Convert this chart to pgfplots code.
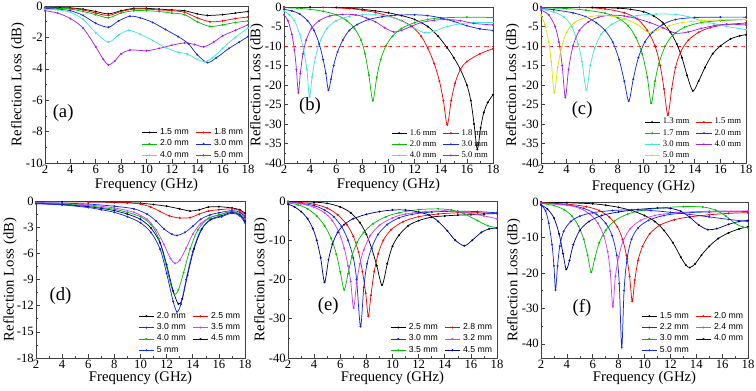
\documentclass[border=0pt]{standalone}
\usepackage{fontspec}
\setmainfont{Liberation Serif}
\setsansfont{Liberation Sans}
\usepackage{pgfplots}
\pgfplotsset{compat=1.18}
\definecolor{cBlack}{RGB}{0,0,0}
\definecolor{cRed}{RGB}{255,0,0}
\definecolor{cGreen}{RGB}{0,190,0}
\definecolor{cBlue}{RGB}{20,40,240}
\definecolor{cCyan}{RGB}{64,230,210}
\definecolor{cPurple}{RGB}{160,32,240}
\definecolor{cMag}{RGB}{210,60,255}
\definecolor{cNavy}{RGB}{0,0,150}
\definecolor{cYellow}{RGB}{225,225,0}

\tikzset{lab/.style={anchor=west, font=\fontsize{14}{16}\selectfont}}
\pgfplotsset{
  rl/.style={
    scale only axis, xmin=2, xmax=18, xtick={2,4,...,18},
    minor x tick num=1, minor y tick num=1,
    tick align=inside, xtick pos=left, ytick pos=left,
    major tick length=3pt, minor tick length=1.6pt,
    axis line style={black!75}, every tick/.style={black!75},
    tick label style={font=\fontsize{9.5}{11}\selectfont},
    yticklabel style={inner sep=1.5pt},
    xticklabel style={inner sep=1.5pt},
    /pgf/number format/assume math mode=true,
    label style={font=\fontsize{11}{13}\selectfont},
    xlabel={Frequency (GHz)}, ylabel={Reflection Loss (dB)},
    ylabel shift=-4pt, xlabel shift=-2pt,
    legend columns=2,
    legend style={at={(0.99,0.005)}, anchor=south east, draw=none, fill=none,
      font=\fontsize{6.5}{7}\sffamily, inner sep=0pt, row sep=-1.5pt,
      /tikz/every even column/.append style={column sep=3pt}},
    legend cell align=left,
    legend image code/.code={\draw[mark repeat=2, mark phase=2] plot coordinates {(0cm,0cm) (0.2cm,0cm) (0.4cm,0cm)};},
    every axis plot/.append style={line width=0.55pt, mark=*, mark size=0.45pt, smooth, tension=0.5},
  },
  bot/.style={xlabel shift=-3pt},
}

\begin{document}
\begin{tikzpicture}
\useasboundingbox (0,0) rectangle (567pt,292.5pt);

%% (a)
\begin{axis}[rl, at={(33.75pt,170.25pt)}, anchor=south west, width=152.25pt, height=117.75pt,
  ymin=-10, ymax=0, ytick={0,-2,...,-10}]
\addplot[cBlack] coordinates {(2,-0.1)(3,-0.1)(4,-0.12)(5,-0.2)(6,-0.35)(7,-0.5)(8,-0.3)(9,-0.15)(10,-0.15)(11,-0.2)(12,-0.25)(13,-0.3)(14,-0.5)(14.8,-0.6)(16,-0.55)(17,-0.45)(18,-0.35)};
\addlegendentry{1.5 mm}
\addplot[cRed] coordinates {(2,-0.1)(3,-0.12)(4,-0.15)(5,-0.25)(6,-0.45)(7,-0.6)(8,-0.35)(9,-0.2)(10,-0.2)(11,-0.25)(12,-0.3)(13,-0.4)(14,-0.75)(15,-1.0)(16,-0.95)(17,-0.8)(18,-0.7)};
\addlegendentry{1.8 mm}
\addplot[cGreen] coordinates {(2,-0.1)(3,-0.15)(4,-0.2)(5,-0.35)(6,-0.55)(7,-0.75)(8,-0.45)(9,-0.3)(10,-0.3)(11,-0.35)(12,-0.45)(13,-0.55)(14,-1.0)(15,-1.3)(16,-1.2)(17,-1.05)(18,-0.95)};
\addlegendentry{2.0 mm}
\addplot[cBlue] coordinates {(2,-0.15)(3,-0.2)(4,-0.3)(5,-0.6)(6,-1.1)(7,-1.35)(7.8,-0.95)(8.7,-0.65)(9.5,-0.75)(10.5,-1.05)(11.5,-1.5)(12.5,-1.95)(13.3,-2.4)(14,-3.1)(14.8,-3.6)(15.5,-3.3)(16.5,-2.7)(17.3,-2.3)(18,-1.95)};
\addlegendentry{3.0 mm}
\addplot[cCyan] coordinates {(2,-0.2)(3,-0.25)(4,-0.4)(5,-0.85)(6,-1.7)(7,-2.3)(7.8,-1.85)(8.6,-1.55)(9.5,-1.8)(10.5,-2.2)(11.5,-2.65)(12.5,-2.95)(13.2,-3.05)(14,-3.4)(14.6,-3.55)(15.2,-3.3)(16,-2.7)(17,-2.0)(18,-1.4)};
\addlegendentry{4.0 mm}
\addplot[cPurple] coordinates {(2,-0.3)(3,-0.45)(4,-0.8)(5,-1.4)(6,-2.6)(6.6,-3.4)(7,-3.75)(7.5,-3.5)(8,-3.05)(8.7,-2.8)(10,-2.85)(11,-2.7)(12,-2.5)(13,-2.35)(13.8,-2.45)(14.5,-2.6)(15.3,-2.3)(16,-1.9)(17,-1.55)(18,-1.2)};
\addlegendentry{5.0 mm}
\node[lab] at (rel axis cs:0.015,0.32) {(a)};
\end{axis}

%% (b)
\begin{axis}[rl, at={(213pt,170.25pt)}, anchor=south west, width=156.75pt, height=117pt,
  ymin=-40, ymax=0, ytick={0,-5,...,-40}, xlabel shift=-2pt,
  legend style={font=\fontsize{6.5}{7}\rmfamily}]
\addplot[red, dashed, mark=none, line width=0.5pt, forget plot] coordinates {(2,-10)(18,-10)};
\addplot[cBlack] coordinates {(2,0)(4,-0.05)(6,-0.15)(7,-0.3)(8,-0.6)(9,-1.0)(10,-1.5)(11,-2.2)(12,-3.2)(13,-5.0)(13.8,-7.5)(14.5,-10.5)(15,-13)(15.5,-16)(16,-20)(16.3,-24)(16.55,-30)(16.8,-36.5)(17.05,-31)(17.3,-27)(17.6,-24.5)(18,-22.5)};
\addlegendentry{1.6 mm}
\addplot[cRed] coordinates {(2,0)(5,-0.1)(7,-0.4)(8,-0.8)(9,-1.4)(10,-2.3)(11,-3.5)(11.8,-5)(12.5,-7.5)(13,-10.5)(13.5,-14.5)(13.9,-19)(14.2,-24)(14.5,-30.2)(14.8,-24)(15.1,-19.5)(15.5,-16)(16,-14)(17,-12)(18,-10.7)};
\addlegendentry{1.8 mm}
\addplot[cGreen] coordinates {(2,-0.2)(3,-0.3)(4,-0.6)(5,-1.1)(6,-2.0)(6.8,-3.5)(7.4,-5.5)(7.9,-8.5)(8.2,-12)(8.5,-17.5)(8.8,-24)(9.1,-18)(9.4,-13.5)(9.8,-10)(10.3,-7.5)(11,-5.5)(12,-4)(13,-3.2)(14,-2.8)(16,-2.6)(18,-2.7)};
\addlegendentry{2.0 mm}
\addplot[cBlue] coordinates {(2,-0.6)(2.6,-1)(3.2,-1.8)(3.8,-3.5)(4.3,-6)(4.7,-9.5)(5,-13.5)(5.2,-17)(5.4,-21.3)(5.6,-18.5)(5.8,-15)(6.1,-11.5)(6.5,-8.5)(7,-6)(7.6,-4.5)(8.5,-3.2)(9.5,-2.5)(10.5,-2.1)(12,-2)(13,-2.2)(14,-2.8)(15,-3.7)(16,-4.8)(17,-5.6)(18,-6)};
\addlegendentry{3.0 mm}
\addplot[cCyan] coordinates {(2,-1)(2.4,-2)(2.8,-3.5)(3.2,-7)(3.5,-11)(3.75,-16)(3.95,-23)(4.15,-18)(4.4,-13)(4.8,-8.5)(5.3,-5.5)(6,-3.5)(7,-2.4)(8,-2)(9,-2)(10,-2.4)(11,-3.6)(12,-5.5)(12.8,-6.6)(13.5,-6.2)(14.5,-5)(15.5,-4.3)(16.5,-4)(18,-4)};
\addlegendentry{4.0 mm}
\addplot[cPurple] coordinates {(2,-2)(2.3,-3.5)(2.6,-7)(2.8,-11)(2.95,-16)(3.1,-22)(3.25,-17)(3.45,-12)(3.7,-8.5)(4.1,-5.5)(4.7,-3.5)(5.5,-2.3)(6.5,-1.9)(7.5,-2)(8.3,-2.8)(9,-3.8)(9.7,-5.3)(10.4,-6.4)(11,-6)(11.7,-5)(12.5,-4)(13.5,-3.4)(14.5,-3.2)(15.5,-3.5)(16.5,-4.2)(18,-4.6)};
\addlegendentry{5.0 mm}
\node[lab] at (rel axis cs:0.05,0.365) {(b)};
\end{axis}

%% (c)
\begin{axis}[rl, at={(405.75pt,170.25pt)}, anchor=south west, width=153.75pt, height=117pt,
  ymin=-40, ymax=0, ytick={0,-5,...,-40}, xlabel shift=0pt, ylabel shift=-3pt,
  legend style={font=\fontsize{6.5}{7}\rmfamily}]
\addplot[red, dashed, mark=none, line width=0.5pt, forget plot] coordinates {(2,-10)(18,-10)};
\addplot[cBlack] coordinates {(2,0)(6,-0.1)(8,-0.3)(9,-0.6)(10,-1.2)(10.8,-2.3)(11.5,-4)(12.1,-6.5)(12.6,-9.5)(13,-13)(13.4,-17.5)(13.85,-21.5)(14.3,-19)(14.8,-15.5)(15.4,-12)(16,-10)(16.8,-8.2)(17.5,-7.4)(18,-7.1)};
\addlegendentry{1.3 mm}
\addplot[cRed] coordinates {(2,0)(5,-0.1)(7,-0.5)(8.5,-1.5)(9.5,-3)(10.3,-6)(10.9,-10)(11.3,-15)(11.6,-21)(11.9,-27.7)(12.2,-21)(12.5,-15.5)(12.9,-11.5)(13.5,-8.5)(14.3,-6.5)(15.2,-5.3)(16.5,-4.5)(18,-4.1)};
\addlegendentry{1.5 mm}
\addplot[cGreen] coordinates {(2,-0.2)(4,-0.4)(5.5,-0.8)(7,-1.6)(8,-2.8)(8.8,-4.8)(9.4,-7.8)(9.9,-12)(10.3,-18)(10.6,-24.7)(10.9,-19)(11.2,-14.5)(11.7,-10)(12.3,-7.2)(13.2,-5.2)(14.5,-4)(16,-3.5)(18,-3.2)};
\addlegendentry{1.7 mm}
\addplot[cBlue] coordinates {(2,-0.4)(3,-0.7)(4.5,-1.5)(5.5,-2.5)(6.3,-4)(7,-6)(7.6,-9)(8.1,-13.5)(8.5,-19)(8.85,-24.1)(9.2,-18.5)(9.6,-13)(10.1,-9)(10.7,-6.5)(11.5,-4.5)(12.5,-3.2)(14,-2.7)(16,-2.6)(18,-2.6)};
\addlegendentry{2.0 mm}
\addplot[cCyan] coordinates {(2,-0.6)(3,-1.3)(3.8,-2.6)(4.4,-5)(4.9,-9.5)(5.2,-14)(5.54,-21.3)(5.85,-15)(6.2,-10.5)(6.7,-7)(7.5,-4.5)(8.5,-3)(9.5,-2.2)(11,-1.8)(12.5,-1.9)(13.5,-2.5)(14.5,-3.5)(15.5,-4.3)(16.5,-5)(18,-5.8)};
\addlegendentry{3.0 mm}
\addplot[cPurple] coordinates {(2,-0.8)(2.6,-2)(3.1,-5)(3.4,-9)(3.65,-15)(3.9,-23.2)(4.15,-16)(4.5,-10)(5,-6)(5.7,-3.8)(6.5,-2.6)(7.5,-2.1)(8.5,-2.3)(9.5,-3)(10.5,-4)(11.5,-5.3)(12.5,-6.7)(13.5,-6.4)(14.5,-5.5)(15.5,-4.8)(16.5,-4.4)(18,-4.6)};
\addlegendentry{4.0 mm}
\addplot[cYellow] coordinates {(2,-2)(2.3,-4.5)(2.6,-9)(2.8,-14)(3.04,-22)(3.3,-15.5)(3.6,-10.5)(4,-6.5)(4.6,-4)(5.5,-2.7)(6.5,-2.2)(7.5,-2.3)(8.5,-3)(9.5,-4.5)(10.4,-6.5)(11.2,-5.8)(12,-4.8)(13,-4)(14.5,-3.5)(16,-3.3)(18,-3.2)};
\addlegendentry{5.0 mm}
\node[lab] at (rel axis cs:0.127,0.34) {(c)};
\end{axis}

%% (d)
\begin{axis}[rl, bot, at={(27pt,24pt)}, anchor=south west, width=156.75pt, height=117.75pt,
  ymin=-18, ymax=0, ytick={0,-3,...,-18}, ylabel shift=-5pt]
\addplot[cBlack] coordinates {(2,-0.1)(4,-0.1)(6,-0.1)(8,-0.15)(9,-0.2)(10,-0.25)(11,-0.4)(12,-0.6)(13,-0.9)(13.8,-1.15)(14.5,-1.0)(15.2,-0.7)(16,-0.65)(17,-0.8)(17.6,-1.0)(18,-1.4)};
\addlegendentry{2.0 mm}
\addplot[cRed] coordinates {(2,-0.1)(6,-0.1)(8,-0.15)(9,-0.2)(10,-0.35)(10.8,-0.7)(11.5,-1.2)(12.2,-1.7)(13,-1.95)(13.8,-1.9)(14.5,-1.5)(15.2,-1.15)(16,-1.0)(17,-0.9)(17.6,-1.1)(18,-1.7)};
\addlegendentry{2.5 mm}
\addplot[cBlue] coordinates {(2,-0.2)(4,-0.25)(6,-0.35)(8,-0.6)(9.5,-0.9)(10.5,-1.5)(11.2,-2.3)(11.8,-3.2)(12.4,-3.8)(12.8,-3.95)(13.4,-3.6)(14,-2.9)(14.6,-2.1)(15.3,-1.6)(16,-1.35)(17,-1.1)(17.6,-1.3)(18,-1.9)};
\addlegendentry{3.0 mm}
\addplot[cMag] coordinates {(2,-0.2)(4,-0.3)(6,-0.45)(8,-0.8)(9.5,-1.3)(10.5,-2.1)(11.2,-3.3)(11.8,-5)(12.3,-6.6)(12.65,-7.15)(13,-6.8)(13.5,-5.4)(14,-3.8)(14.6,-2.6)(15.3,-1.9)(16,-1.6)(17,-1.2)(17.6,-1.5)(18,-2.1)};
\addlegendentry{3.5 mm}
\addplot[cGreen] coordinates {(2,-0.25)(4,-0.35)(6,-0.55)(7,-0.75)(8,-0.95)(9,-1.3)(10,-1.8)(10.8,-2.7)(11.4,-4.3)(11.9,-7)(12.3,-9.5)(12.6,-10.7)(12.9,-10.2)(13.3,-8.2)(13.8,-5.5)(14.4,-3.3)(15.2,-2)(16,-1.6)(17,-1.2)(17.6,-1.5)(18,-2.2)};
\addlegendentry{4.0 mm}
\addplot[cNavy] coordinates {(2,-0.3)(4,-0.4)(6,-0.65)(7,-0.85)(8,-1.1)(9,-1.5)(10,-2.1)(10.8,-3.1)(11.5,-4.8)(12,-7.3)(12.5,-10.3)(12.9,-11.8)(13.2,-11.2)(13.6,-8.5)(14.1,-5.5)(14.7,-3.2)(15.4,-2.1)(16.2,-1.7)(17,-1.3)(17.6,-1.6)(18,-2.3)};
\addlegendentry{4.5 mm}
\addplot[cBlue] coordinates {(2,-0.3)(4,-0.45)(6,-0.75)(7,-1.0)(8,-1.3)(9,-1.8)(10,-2.5)(10.8,-3.6)(11.5,-5.5)(12,-8.3)(12.5,-11.5)(12.8,-12.7)(13.1,-11.8)(13.5,-9)(14,-5.8)(14.6,-3.4)(15.3,-2.2)(16.2,-1.8)(17,-1.4)(17.6,-1.7)(18,-2.5)};
\addlegendentry{5 mm}
\node[lab] at (rel axis cs:0.043,0.395) {(d)};
\end{axis}

%% (e)
\begin{axis}[rl, bot, at={(216pt,24pt)}, anchor=south west, width=156.75pt, height=117.75pt,
  ymin=-40, ymax=0, ytick={0,-10,...,-40}]
\addplot[cBlack] coordinates {(2,-0.1)(4,-0.3)(5,-0.6)(6,-1.5)(6.8,-3)(7.5,-5.5)(8,-8.5)(8.4,-12)(8.8,-16.5)(9.2,-21.4)(9.6,-16)(10,-11.5)(10.5,-8.7)(11.2,-6.3)(12,-5)(13,-4.1)(14,-3.8)(15,-3.6)(16,-3.5)(17,-3.3)(18,-3.2)};
\addlegendentry{2.5 mm}
\addplot[cRed] coordinates {(2,-0.2)(3,-0.4)(4,-0.8)(5,-1.8)(5.8,-3.5)(6.5,-6)(7,-9)(7.4,-13)(7.7,-18)(7.95,-23.5)(8.15,-29.4)(8.35,-24)(8.6,-18)(8.9,-13.5)(9.3,-10)(9.9,-7.3)(10.8,-5.3)(12,-4)(13.5,-3.3)(15,-3)(16.5,-3)(18,-3.2)};
\addlegendentry{2.8 mm}
\addplot[cBlue] coordinates {(2,-0.3)(3,-0.6)(4,-1.2)(4.8,-2.3)(5.5,-4)(6.1,-6.5)(6.6,-10)(7,-14.5)(7.25,-20)(7.55,-32)(7.8,-22)(8.05,-16)(8.4,-12)(8.9,-8.5)(9.6,-6)(10.5,-4.3)(11.5,-3.4)(13,-2.8)(15,-2.6)(16.5,-2.7)(18,-3)};
\addlegendentry{3.0 mm}
\addplot[cMag] coordinates {(2,-0.3)(3,-0.7)(4,-1.6)(4.8,-3)(5.4,-5)(5.9,-8)(6.3,-12)(6.6,-16.5)(6.8,-20.5)(7.02,-27.3)(7.25,-21)(7.5,-16)(7.8,-12.5)(8.3,-8.8)(9,-6.2)(10,-4.3)(11,-3.3)(12.5,-2.7)(14,-2.5)(15,-2.7)(16,-3.2)(17,-3.8)(18,-4.5)};
\addlegendentry{3.2 mm}
\addplot[cGreen] coordinates {(2,-0.5)(2.8,-1)(3.5,-2)(4.2,-3.8)(4.8,-6.3)(5.3,-9.5)(5.7,-13.5)(6,-18)(6.3,-22.6)(6.6,-18.5)(6.9,-14)(7.3,-10.5)(7.8,-8)(8.5,-5.8)(9.5,-4)(10.5,-3)(12,-2.2)(13.5,-2.0)(14.5,-2.3)(15.5,-3.3)(16.5,-5)(17.3,-6.3)(18,-6.8)};
\addlegendentry{3.5 mm}
\addplot[cNavy] coordinates {(2,-0.8)(2.5,-1.5)(3,-2.7)(3.5,-4.5)(3.9,-7)(4.2,-10)(4.5,-14.5)(4.8,-20.7)(5.1,-15)(5.4,-11)(5.8,-8)(6.3,-6)(7,-4.5)(8,-3.4)(9,-2.7)(10,-2.3)(11,-2.3)(12,-2.8)(12.8,-3.6)(13.5,-5.2)(14.2,-7.6)(14.8,-10)(15.5,-11.4)(16.1,-10)(16.8,-8)(17.4,-7.1)(18,-6.9)};
\addlegendentry{4.5 mm}
\node[lab] at (rel axis cs:0.12,0.33) {(e)};
\end{axis}

%% (f)
\begin{axis}[rl, bot, at={(405.75pt,24pt)}, anchor=south west, width=155.25pt, height=117pt,
  ymin=-44, ymax=0, ytick={0,-10,...,-40}]
\addplot[cBlack] coordinates {(2,0)(4,-0.2)(6,-0.5)(7,-0.9)(8,-1.5)(9,-2.4)(10,-3.8)(10.8,-5.5)(11.5,-8)(12.2,-11.5)(12.8,-15.5)(13.2,-17.8)(13.5,-18.5)(13.9,-17.5)(14.4,-15)(15,-12.5)(15.7,-10.3)(16.5,-8.7)(17.3,-7.6)(18,-7)};
\addlegendentry{1.5 mm}
\addplot[cRed] coordinates {(2,-0.2)(4,-0.6)(5.5,-1.3)(6.5,-2.4)(7.3,-4.3)(7.9,-7)(8.3,-10.5)(8.6,-15)(8.85,-21)(9.05,-28)(9.25,-22)(9.5,-16.5)(9.85,-12.5)(10.4,-9)(11.2,-6.5)(12.3,-5)(13.5,-4.2)(15,-3.6)(16.5,-3.2)(18,-3)};
\addlegendentry{2.0 mm}
\addplot[cBlue] coordinates {(2,-0.3)(4,-0.8)(5.3,-1.8)(6.3,-3.5)(7,-6)(7.5,-9.5)(7.85,-15)(8.05,-23)(8.24,-41)(8.42,-25)(8.65,-16)(9,-10.5)(9.5,-7.3)(10.3,-5.2)(11.5,-3.8)(13,-3.1)(15,-2.8)(18,-2.7)};
\addlegendentry{2.2 mm}
\addplot[cMag] coordinates {(2,-0.3)(4,-0.9)(5,-1.8)(5.8,-3.5)(6.4,-6)(6.85,-9.5)(7.15,-14)(7.35,-19.5)(7.55,-29.5)(7.75,-21)(8,-15.5)(8.35,-11)(8.9,-7.5)(9.7,-5.2)(10.8,-3.8)(12.5,-3)(15,-2.6)(18,-2.5)};
\addlegendentry{2.4 mm}
\addplot[cGreen] coordinates {(2,-0.4)(3,-1)(3.8,-2.2)(4.4,-4)(4.9,-6.8)(5.3,-10.5)(5.6,-15)(5.88,-19.8)(6.15,-16)(6.5,-11.5)(7,-8)(7.7,-5.3)(8.7,-3.4)(10,-2.2)(11.5,-1.6)(13,-1.3)(14.5,-1.4)(15.5,-2.3)(16.3,-4)(17,-6)(17.6,-7.1)(18,-7.3)};
\addlegendentry{3.0 mm}
\addplot[cNavy] coordinates {(2,-0.8)(2.5,-2)(3,-4.5)(3.4,-9)(3.7,-14.5)(3.95,-19)(4.2,-16.5)(4.5,-12)(5,-8)(5.7,-5.5)(6.7,-3.8)(8,-2.8)(9.5,-2.1)(11,-1.7)(12,-1.8)(12.8,-2.6)(13.5,-4.3)(14.2,-6.5)(14.9,-7.8)(15.6,-7.5)(16.5,-6.3)(17.3,-5.5)(18,-5.2)};
\addlegendentry{4.0 mm}
\addplot[cBlue] coordinates {(2,-0.8)(2.35,-2.5)(2.6,-6)(2.85,-12)(3.0,-18)(3.12,-24.8)(3.28,-18)(3.45,-12.5)(3.75,-8.3)(4.3,-5.5)(5,-4)(6,-3)(7.5,-2.4)(9,-2.2)(10.5,-2.4)(12,-2.9)(13.5,-3.5)(15,-4.2)(16.5,-4.9)(18,-5.5)};
\addlegendentry{5.0 mm}
\node[lab] at (rel axis cs:0.13,0.32) {(f)};
\end{axis}
\end{tikzpicture}
\end{document}
